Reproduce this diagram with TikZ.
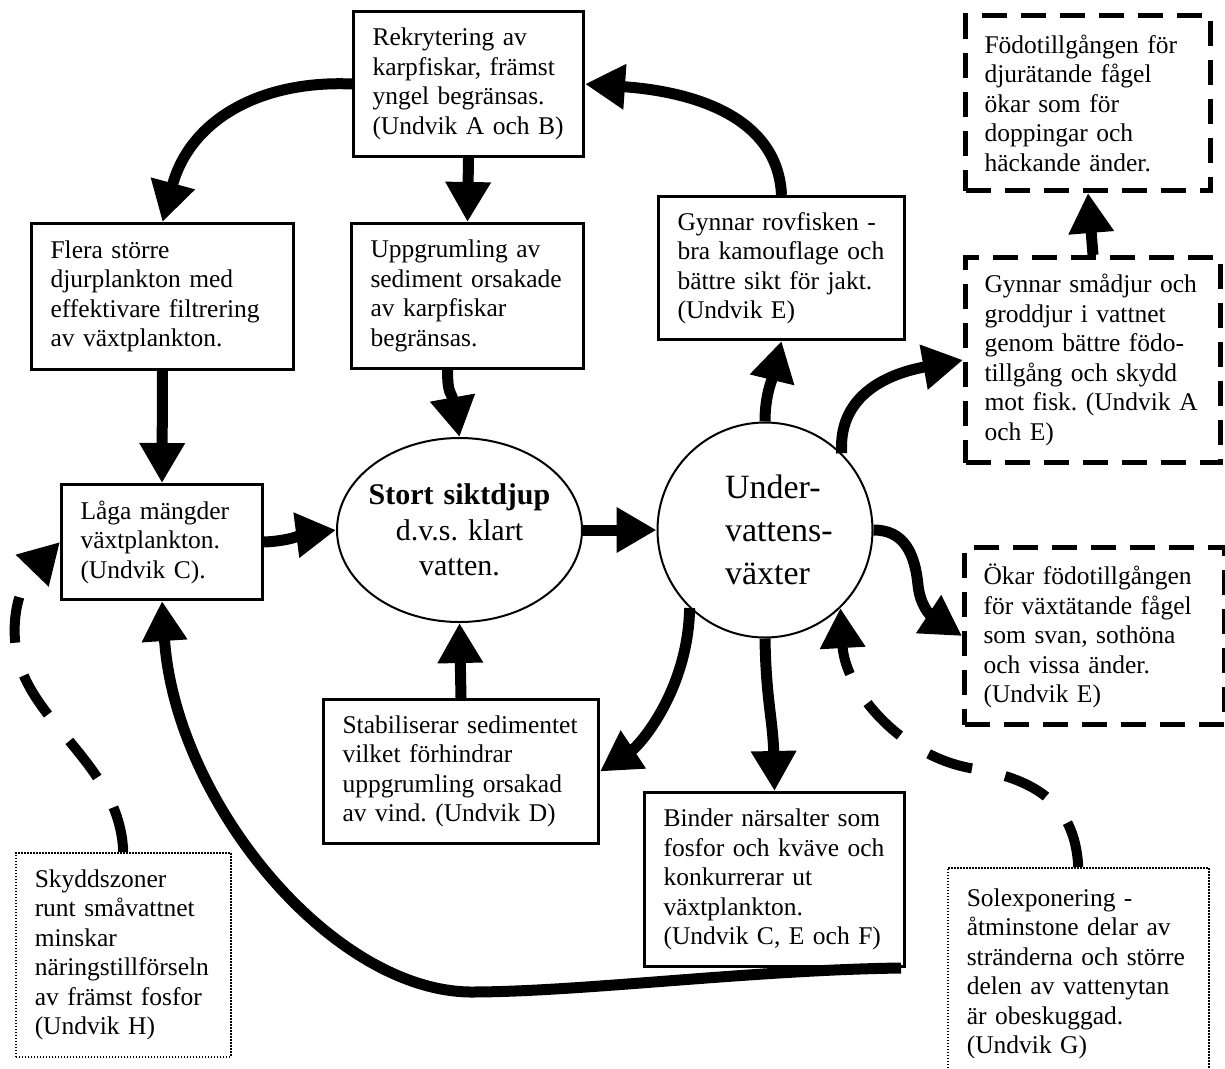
\documentclass[tikz,border=0pt]{standalone}
\usepackage{fontspec}
\setmainfont{Liberation Serif}
\usetikzlibrary{arrows.meta,shapes.geometric}
\newcommand\diafont{\fontsize{25.5}{29.5}\selectfont\frenchspacing}
\newcommand\ovalfont{\fontsize{30}{35.5}\selectfont\frenchspacing}
\newcommand\roundfont{\fontsize{34}{43}\selectfont}
\tikzset{
  box/.style={draw, line width=3pt, anchor=north west, align=left,
    inner xsep=19pt, inner ysep=4pt, font=\diafont},
  dashbox/.style={box, line width=5pt, dash pattern=on 25pt off 14pt},
  dotbox/.style={box, line width=1.5pt, dash pattern=on 1.5pt off 1.5pt},
  flow/.style={line width=11pt, -{Triangle[length=40pt,width=43pt]}},
  dashflow/.style={flow, line width=10pt, dash pattern=on 46pt off 34pt}
}

\begin{document}
\begin{tikzpicture}[x=1pt, y=-1pt]
    \useasboundingbox (0,0) rectangle (1225,1068);
    \clip (0,0) rectangle (1225,1068);

    % boxes
    \node[box, text width=192pt, minimum height=145pt] (rek) at (352,10) {Rekrytering av\\karpfiskar, främst\\yngel begränsas.\\(Undvik A och B)};
    \node[box, text width=224pt, minimum height=146pt] (flera) at (30,222) {Flera större\\djurplankton med\\effektivare filtrering\\av växtplankton.};
    \node[box, text width=194pt, minimum height=145pt] (uppgr) at (350,222) {Uppgrumling av\\sediment orsakade\\av karpfiskar\\begränsas.};
    \node[box, text width=208pt, minimum height=143pt] (rovfisk) at (657,195) {Gynnar rovfisken -\\bra kamouflage och\\bättre sikt för jakt.\\(Undvik E)};
    \node[box, text width=163pt, minimum height=115pt] (laga) at (60,483) {Låga mängder\\växtplankton.\\(Undvik C).};
    \node[box, text width=237pt, minimum height=144pt] (stab) at (322,698) {Stabiliserar sedimentet\\vilket förhindrar\\uppgrumling orsakad\\av vind. (Undvik D)};
    \node[box, text width=222pt, minimum height=174pt] (binder) at (643,791) {Binder närsalter som\\fosfor och kväve och\\konkurrerar ut\\växtplankton.\\(Undvik C, E och F)};
    \node[dotbox, text width=177pt, minimum height=204pt] (skydd) at (15,852) {Skyddszoner\\runt småvattnet\\minskar\\näringstillförseln\\av främst fosfor\\(Undvik H)};
    \node[dotbox, text width=223pt, minimum height=212pt] (sol) at (947,867) {Solexponering -\\åtminstone delar av\\stränderna och större\\delen av vattenytan\\är obeskuggad.\\(Undvik G)};
    \node[dashbox, text width=207pt, minimum height=175pt] (fodo) at (963,13) {Födotillgången för\\djurätande fågel\\ökar som för\\doppingar och\\häckande änder.};
    \node[dashbox, text width=217pt, minimum height=205pt] (smadjur) at (963,255) {Gynnar smådjur och\\groddjur i vattnet\\genom bättre födo-\\tillgång och skydd\\mot fisk. (Undvik A\\och E)};
    \node[dashbox, text width=222pt, minimum height=177pt] (okar) at (962,545) {Ökar födotillgången\\för växtätande fågel\\som svan, sothöna\\och vissa änder.\\(Undvik E)};

    \node[draw, ellipse, line width=2pt, minimum width=245pt, minimum height=184pt,
      text width=100pt, align=center, font=\ovalfont] (stort) at (459.5,530)
      {\makebox[0pt]{\textbf{Stort siktdjup}}\\\makebox[0pt]{d.v.s. klart}\\\makebox[0pt]{vatten.}};
    \node[draw, circle, line width=2pt, minimum size=215pt, text width=80pt,
      align=left, font=\roundfont] (vaxt) at (765,530)
      {\mbox{Under-}\\\mbox{vattens-}\\\mbox{växter}};

    % arrows
    \draw[flow] (rek.west) .. controls (260,80) and (190,120) .. (flera.north);
    \draw[flow] (rek.south) -- (uppgr.north);
    \draw[flow] (flera.south) -- (laga.north);
    \draw[flow] ([xshift=-20pt]uppgr.south) .. controls +(0,25) and +(-8,-45) .. (stort.north);
    \draw[flow] (laga.east) .. controls (290,541) and (305,534) .. (stort.west);
    \draw[flow] (stort.east) -- (vaxt.west);
    \draw[flow] (stab.north) -- (stort.south);
    \draw[flow] (vaxt.north) .. controls (765,395) and (772,380) .. (rovfisk.south);
    \draw[flow] (rovfisk.north) .. controls (778,120) and (700,92) .. (rek.east);
    \draw[flow] (vaxt.45) .. controls (838,400) and (880,375) .. (smadjur.west);
    \draw[flow] (smadjur.north) -- (fodo.south);
    \draw[flow] (vaxt.east) .. controls (905,530) and (915,555) .. (918,585)
      .. controls (920,605) and (930,615) .. (okar.west);
    \draw[flow] (vaxt.226) .. controls (688,690) and (640,745) .. (stab.east);
    \draw[flow] (vaxt.south) .. controls (766,700) and (773,720) .. (binder.north);
    \draw[flow] ([xshift=-5pt]binder.south east) .. controls (750,970) and (580,992) .. (470,992)
      .. controls (330,990) and (175,800) .. (laga.south);

    % dashed arrows
    \draw[dashflow] (skydd.north) .. controls (120,760) and (20,720) .. (15,640)
      .. controls (12,600) and (28,575) .. (laga.west);
    \draw[dashflow] (sol.north) .. controls (1075,800) and (1030,778) .. (970,768)
      .. controls (900,755) and (845,690) .. (vaxt.-46);
\end{tikzpicture}
\end{document}
